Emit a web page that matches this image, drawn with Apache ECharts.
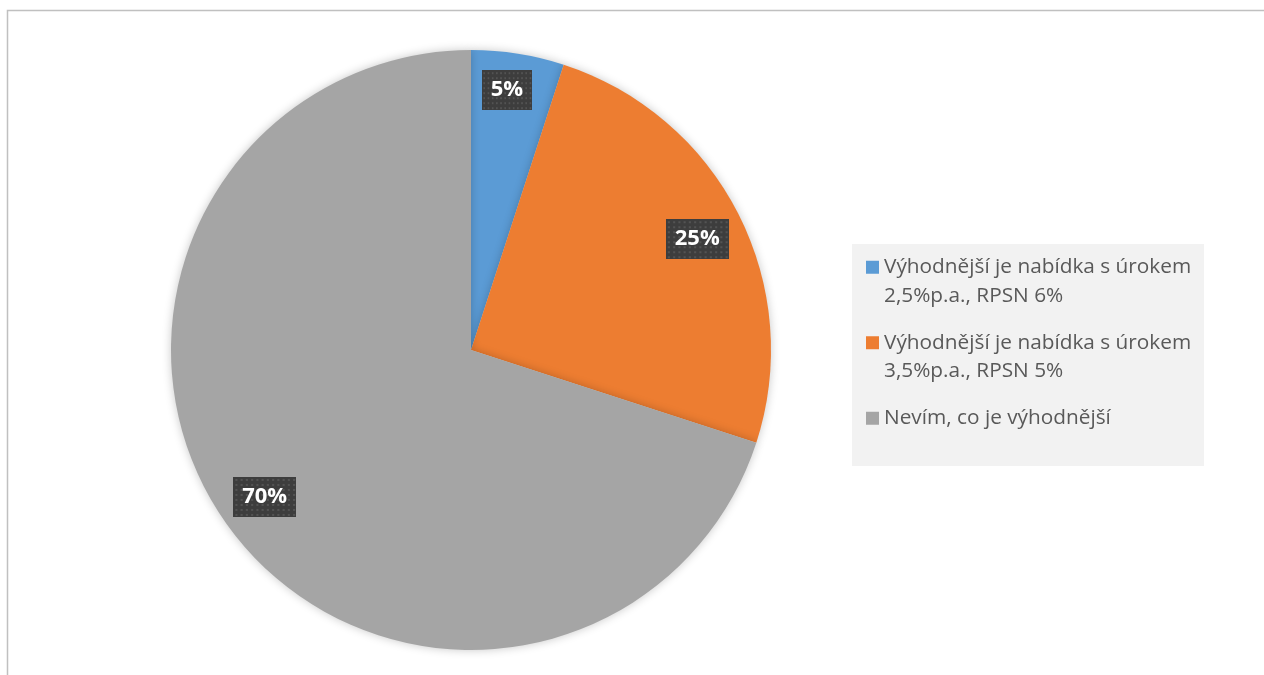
<!DOCTYPE html>
<html>
<head>
<meta charset="utf-8">
<script src="https://cdn.jsdelivr.net/npm/echarts@6/dist/echarts.min.js"></script>
<style>
  html, body { margin: 0; padding: 0; background: #fff; }
  #chart { width: 1264px; height: 675px; }
</style>
</head>
<body>
<div id="chart"></div>
<script>
const categories = [
  'Výhodnější je nabídka s úrokem\n2,5%p.a., RPSN 6%',
  'Výhodnější je nabídka s úrokem\n3,5%p.a., RPSN 5%',
  'Nevím, co je výhodnější'
];
const values = [5, 25, 70];
const colors = ['#5B9BD5', '#ED7D31', '#A5A5A5'];

// dotted dark pattern for data label boxes
function makePattern(w, h) {
  const c = document.createElement('canvas');
  c.width = w; c.height = h;
  const g = c.getContext('2d');
  g.fillStyle = '#3d3d3d';
  g.fillRect(0, 0, w, h);
  g.fillStyle = '#535353';
  for (let y = 2; y < h; y += 5) {
    for (let x = 2; x < w; x += 5) {
      g.fillRect(x, y, 2, 2);
    }
  }
  return c;
}
const pattern = makePattern(60, 40);

// small nudges so the labels sit where the original's "best fit" put them
const labelNudge = [[-4, -8], [-1, 5], [0, -3]];

const pieData = categories.map((n, i) => ({ name: n, value: values[i], itemStyle: { color: colors[i] } }));
const labelData = categories.map((n, i) => ({ name: n, value: values[i], label: { offset: labelNudge[i] } }));
const total = values.reduce((a, b) => a + b, 0);

const chart = echarts.init(document.getElementById('chart'), null, { renderer: 'canvas' });
chart.setOption({
  animation: false,
  backgroundColor: '#ffffff',
  graphic: [
    { type: 'rect', z: -10, shape: { x: 7.5, y: 10.5, width: 1400, height: 800 },
      style: { fill: 'none', stroke: '#c0c0c0', lineWidth: 1.5 } },
    { type: 'rect', z: -10, shape: { x: 852, y: 244, width: 352, height: 222 },
      style: { fill: '#f2f2f2' } }
  ],
  legend: {
    orient: 'vertical',
    left: 866,
    top: 224.5,
    padding: 0,
    itemGap: -10,
    itemWidth: 13,
    itemHeight: 13,
    icon: 'rect',
    selectedMode: false,
    data: categories,
    formatter: function (name) {
      return '\n' + name + (name.indexOf('\n') >= 0 ? '' : '\n');
    },
    textStyle: {
      fontFamily: 'Open Sans',
      fontSize: 20.8,
      lineHeight: 28.5,
      color: '#595959'
    }
  },
  series: [
    {
      type: 'pie',
      center: [471, 350],
      radius: [0, 300],
      startAngle: 90,
      clockwise: true,
      data: pieData,
      label: { show: false },
      labelLine: { show: false },
      emphasis: { disabled: true },
      itemStyle: { shadowBlur: 10, shadowColor: 'rgba(0,0,0,0.22)' }
    },
    {
      type: 'pie',
      center: [471, 350],
      radius: [204, 300],
      startAngle: 90,
      clockwise: true,
      silent: true,
      data: labelData,
      itemStyle: { color: 'rgba(0,0,0,0)' },
      emphasis: { disabled: true },
      labelLine: { show: false },
      label: {
        show: true,
        position: 'inside',
        formatter: function (p) { return Math.round(p.value / total * 100) + '%'; },
        fontFamily: 'Open Sans',
        fontWeight: 'bold',
        fontSize: 22,
        lineHeight: 22,
        color: '#ffffff',
        padding: [9, 9],
        backgroundColor: { image: pattern },
        shadowColor: 'rgba(0,0,0,0.5)',
        shadowBlur: 6,
        shadowOffsetX: 3,
        shadowOffsetY: 3
      }
    }
  ]
});
</script>
</body>
</html>
